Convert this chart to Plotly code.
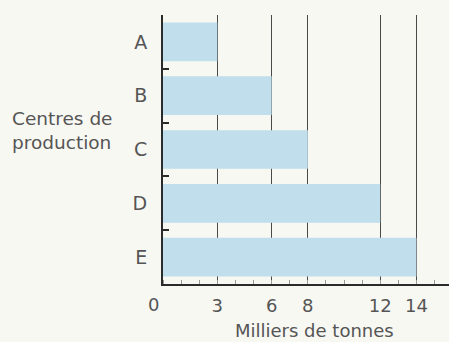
import plotly.graph_objects as go

# Production per centre, in thousands of tonnes
centres = ["A", "B", "C", "D", "E"]
production = [3, 6, 8, 12, 14]
x_ticks = [3, 6, 8, 12, 14]

BG = "#f8f8f3"
BAR = "#c0deeb"
INK = "#2b2b2b"
TEXT = "#555555"
FONT = "DejaVu Sans"

fig = go.Figure(
    go.Bar(
        y=centres,
        x=production,
        orientation="h",
        width=0.72,
        marker=dict(color=BAR, line=dict(width=0)),
    )
)

fig.update_layout(
    width=449,
    height=342,
    margin=dict(l=163, r=0, t=15, b=58),
    paper_bgcolor=BG,
    plot_bgcolor=BG,
    showlegend=False,
    font=dict(family=FONT, color=TEXT, size=18),
)

fig.update_xaxes(
    range=[0, 15.8],
    tickvals=x_ticks,
    ticktext=[str(v) for v in x_ticks],
    showgrid=True,
    gridcolor="#4a4a4a",
    gridwidth=1,
    showline=True,
    linecolor=INK,
    linewidth=2,
    ticks="",
    zeroline=False,
    tickfont=dict(size=18, color=TEXT),
    ticklabelstandoff=4,
    minor=dict(ticks="inside", ticklen=4, tickcolor="#999999", dtick=1, showgrid=False),
)

fig.update_yaxes(
    categoryorder="array",
    categoryarray=centres[::-1],
    range=[-0.5, 4.5],
    showline=True,
    linecolor=INK,
    linewidth=2,
    ticks="inside",
    tickson="boundaries",
    ticklen=6,
    tickwidth=2,
    tickcolor=INK,
    showgrid=False,
    tickfont=dict(size=19, color=TEXT),
    ticklabelstandoff=10,
)

# Origin label sits just left of the axis corner
fig.add_annotation(
    x=0, y=0, xref="x", yref="paper",
    text="0", showarrow=False,
    xshift=-10, yshift=-8, yanchor="top",
    font=dict(size=18, color=TEXT),
)

# x-axis title, placed under the tick labels
fig.add_annotation(
    x=0.528, y=-0.126, xref="paper", yref="paper",
    text="Milliers de tonnes", showarrow=False,
    xanchor="center", yanchor="top",
    font=dict(size=18, color=TEXT),
)

# Horizontal y-axis title on the left
fig.add_annotation(
    x=-0.535, y=0.572, xref="paper", yref="paper",
    text="Centres de<br>production", showarrow=False,
    xanchor="left", yanchor="middle", align="left",
    font=dict(size=18.5, color=TEXT),
)

fig.write_html("out.html")
